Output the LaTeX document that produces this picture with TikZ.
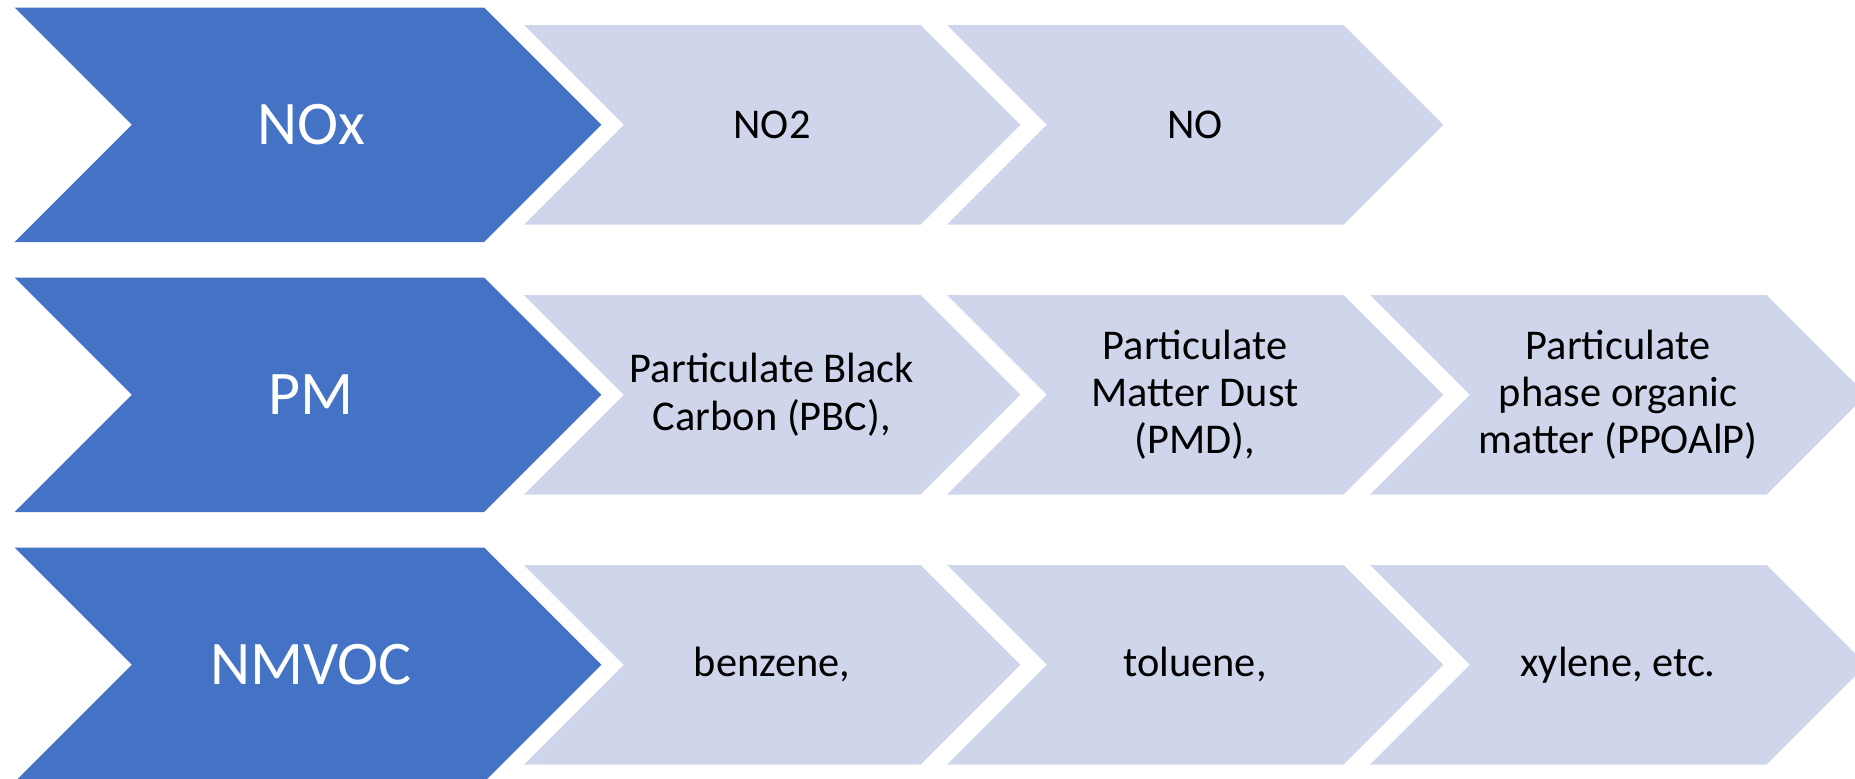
\documentclass[tikz,border=0pt]{standalone}
\usepackage{fontspec}
\setmainfont{Carlito}
\definecolor{headblue}{HTML}{4472C4}
\definecolor{stepblue}{HTML}{CFD5EA}
\tikzset{
  pics/headchev/.style={code={
    \fill[headblue] (0,0) -- (469.5,0) -- (586.75,117.25) -- (469.5,234.5)
      -- (0,234.5) -- (117.25,117.25) -- cycle;}},
  pics/stepchev/.style={code={
    \fill[stepblue] (0,0) -- (396.5,0) -- (496.25,99.75) -- (396.5,199.5)
      -- (0,199.5) -- (99.75,99.75) -- cycle;}},
  headtext/.style={text=white, inner sep=0pt, font=\fontsize{31}{37}\selectfont},
  itemtext/.style={text=black, inner sep=0pt, align=center,
    font=\fontsize{21.2}{23.6}\selectfont}
}
\begin{document}
\begin{tikzpicture}[x=0.5pt,y=-0.5pt]
\useasboundingbox (0,0) rectangle (1855,778);
\clip (0,0) rectangle (1855,778);

% row 1: NOx
\begin{scope}
  \pic at (14.6,7.5) {headchev};
  \pic at (524,25) {stepchev};
  \pic at (947,25) {stepchev};
  \node[headtext] (nox) at (311,124.75) {NOx};
  \node[itemtext] (no2) at (772,124.75) {NO2};
  \node[itemtext] (no) at (1195,124.75) {NO};
\end{scope}

% row 2: PM
\begin{scope}[shift={(0,270)}]
  \pic at (14.6,7.5) {headchev};
  \pic at (524,25) {stepchev};
  \pic at (947,25) {stepchev};
  \pic at (1370,25) {stepchev};
  \node[headtext] (pm) at (311,124.75) {PM};
  \node[itemtext] (pbc) at (772,124.75) {Particulate Black\\Carbon (PBC),};
  \node[itemtext] (pmd) at (1195,124.75) {Particulate\\Matter Dust\\(PMD),};
  \node[itemtext] (ppoa) at (1618,124.75) {Particulate\\phase organic\\matter (PPOAlP)};
\end{scope}

% row 3: NMVOC
\begin{scope}[shift={(0,540)}]
  \pic at (14.6,7.5) {headchev};
  \pic at (524,25) {stepchev};
  \pic at (947,25) {stepchev};
  \pic at (1370,25) {stepchev};
  \node[headtext] (nmvoc) at (311,124.75) {NMVOC};
  \node[itemtext] (benzene) at (772,124.75) {benzene,};
  \node[itemtext] (toluene) at (1195,124.75) {toluene,};
  \node[itemtext] (xylene) at (1618,124.75) {xylene, etc.};
\end{scope}
\end{tikzpicture}
\end{document}
